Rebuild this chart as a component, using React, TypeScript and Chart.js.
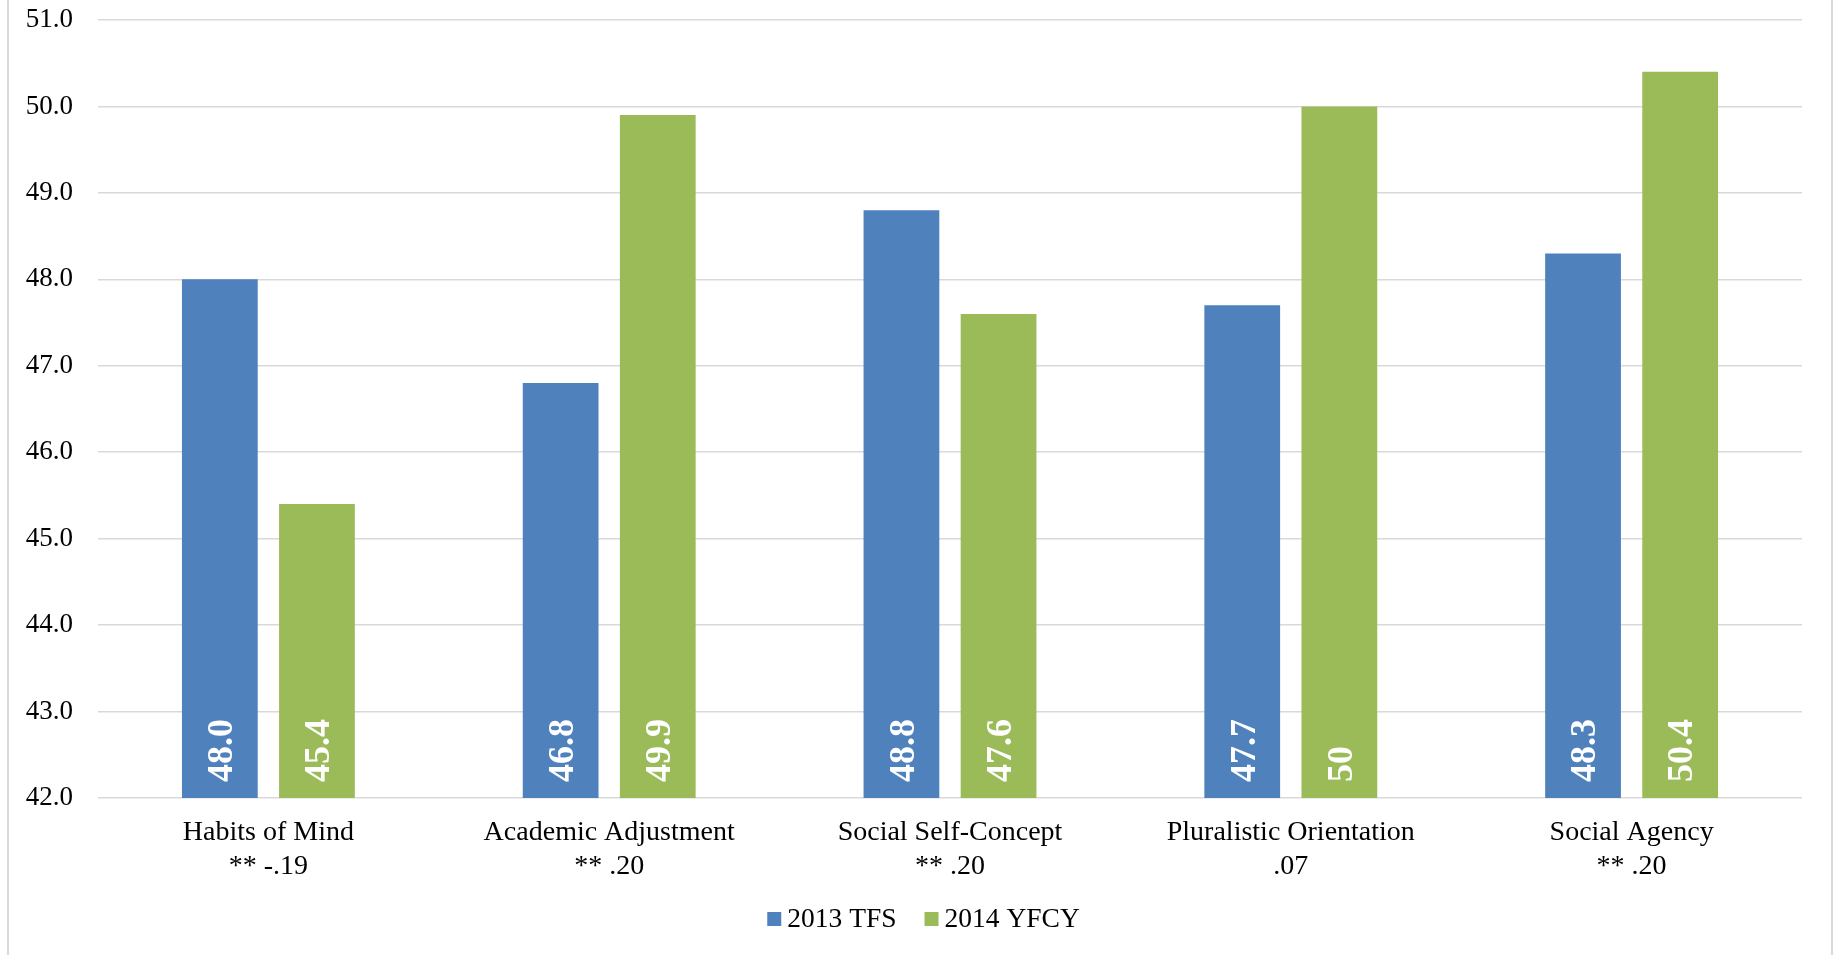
import React, { useEffect, useRef } from "react";
import { Chart, registerables } from "chart.js";

Chart.register(...registerables);

// Factor names with their correlation notes (second line under each name)
const categories: string[][] = [
  ["Habits of Mind", "** -.19"],
  ["Academic Adjustment", "** .20"],
  ["Social Self-Concept", "** .20"],
  ["Pluralistic Orientation", ".07"],
  ["Social Agency", "** .20"],
];

// Value labels as printed on the bars; bar heights are parsed from them
const tfs2013Labels = ["48.0", "46.8", "48.8", "47.7", "48.3"];
const yfcy2014Labels = ["45.4", "49.9", "47.6", "50", "50.4"];

const tfs2013 = tfs2013Labels.map(Number);
const yfcy2014 = yfcy2014Labels.map(Number);

const seriesNames = ["2013 TFS", "2014 YFCY"];
const seriesColors = ["#4f81bd", "#9bbb59"];

const yMin = 42;
const yMax = 51;
const yStep = 1;

const SERIF = "'Liberation Serif', 'Times New Roman', serif";

// Rotated white value labels near the base of each bar, plus a compact legend
const chartExtras = {
  id: "chartExtras",
  afterDraw(chart: any) {
    const ctx = chart.ctx;

    const labelSets = [tfs2013Labels, yfcy2014Labels];
    const basePx = chart.scales.y.getPixelForValue(yMin);
    for (let di = 0; di < labelSets.length; di++) {
      const meta = chart.getDatasetMeta(di);
      for (let i = 0; i < meta.data.length; i++) {
        const bar = meta.data[i];
        ctx.save();
        ctx.translate(bar.x, basePx - 16);
        ctx.rotate(-Math.PI / 2);
        ctx.font = `bold 36px ${SERIF}`;
        ctx.fillStyle = "#ffffff";
        ctx.textAlign = "left";
        ctx.textBaseline = "middle";
        ctx.fillText(labelSets[di][i], 0, 3);
        ctx.restore();
      }
    }

    const box = 14;
    const gap = 6;
    const itemGap = 28;
    const cy = 919;
    ctx.save();
    ctx.font = `27.5px ${SERIF}`;
    const widths = seriesNames.map((n) => ctx.measureText(n).width);
    const total =
      widths.reduce((a, w) => a + box + gap + w, 0) + itemGap * (seriesNames.length - 1);
    let x = chart.width / 2 + 6 - total / 2;
    seriesNames.forEach((name, i) => {
      ctx.fillStyle = seriesColors[i];
      ctx.fillRect(x, cy - box / 2, box, box);
      x += box + gap;
      ctx.fillStyle = "#000000";
      ctx.textAlign = "left";
      ctx.textBaseline = "middle";
      ctx.fillText(name, x, cy + 1);
      x += widths[i] + itemGap;
    });
    ctx.restore();
  },
};

export default function App() {
  const canvasRef = useRef<HTMLCanvasElement | null>(null);

  useEffect(() => {
    if (!canvasRef.current) return;
    const chart = new Chart(canvasRef.current, {
      type: "bar",
      data: {
        labels: categories,
        datasets: [
          {
            label: seriesNames[0],
            data: tfs2013,
            backgroundColor: seriesColors[0],
            categoryPercentage: 0.57,
            barPercentage: 0.78,
          },
          {
            label: seriesNames[1],
            data: yfcy2014,
            backgroundColor: seriesColors[1],
            categoryPercentage: 0.57,
            barPercentage: 0.78,
          },
        ],
      },
      options: {
        responsive: false,
        animation: false,
        devicePixelRatio: 1,
        layout: { padding: { left: 0, right: 33, top: 20, bottom: 71 } },
        plugins: {
          legend: { display: false },
          tooltip: { enabled: false },
        },
        scales: {
          x: {
            grid: { display: false, drawTicks: false },
            border: { display: false },
            ticks: {
              color: "#000000",
              font: { family: SERIF, size: 28, lineHeight: 34 / 28 },
              padding: 18,
              maxRotation: 0,
              autoSkip: false,
            },
            afterFit(scale: any) {
              scale.height = 86;
            },
          },
          y: {
            min: yMin,
            max: yMax,
            grid: { color: "#d9d9d9", lineWidth: 1.5, drawTicks: false },
            border: { display: false },
            ticks: {
              stepSize: yStep,
              color: "#000000",
              font: { family: SERIF, size: 27 },
              padding: 25,
              callback: (v: any) => Number(v).toFixed(1),
            },
            afterFit(scale: any) {
              scale.width = 98;
              scale.paddingTop = 0;
              scale.paddingBottom = 0;
            },
          },
        },
      },
      plugins: [chartExtras],
    });
    return () => chart.destroy();
  }, []);

  return (
    <div
      style={{
        position: "fixed",
        left: 0,
        top: 0,
        width: 1835,
        height: 955,
        background: "#ffffff",
        overflow: "hidden",
      }}
    >
      <canvas
        ref={canvasRef}
        width={1835}
        height={955}
        style={{ position: "absolute", left: 0, top: 0, width: 1835, height: 955 }}
      />
      <div
        style={{ position: "absolute", left: 7, top: 0, width: 2, height: 955, background: "#d9d9d9" }}
      />
      <div
        style={{ position: "absolute", left: 1831, top: 0, width: 2, height: 955, background: "#d9d9d9" }}
      />
    </div>
  );
}
